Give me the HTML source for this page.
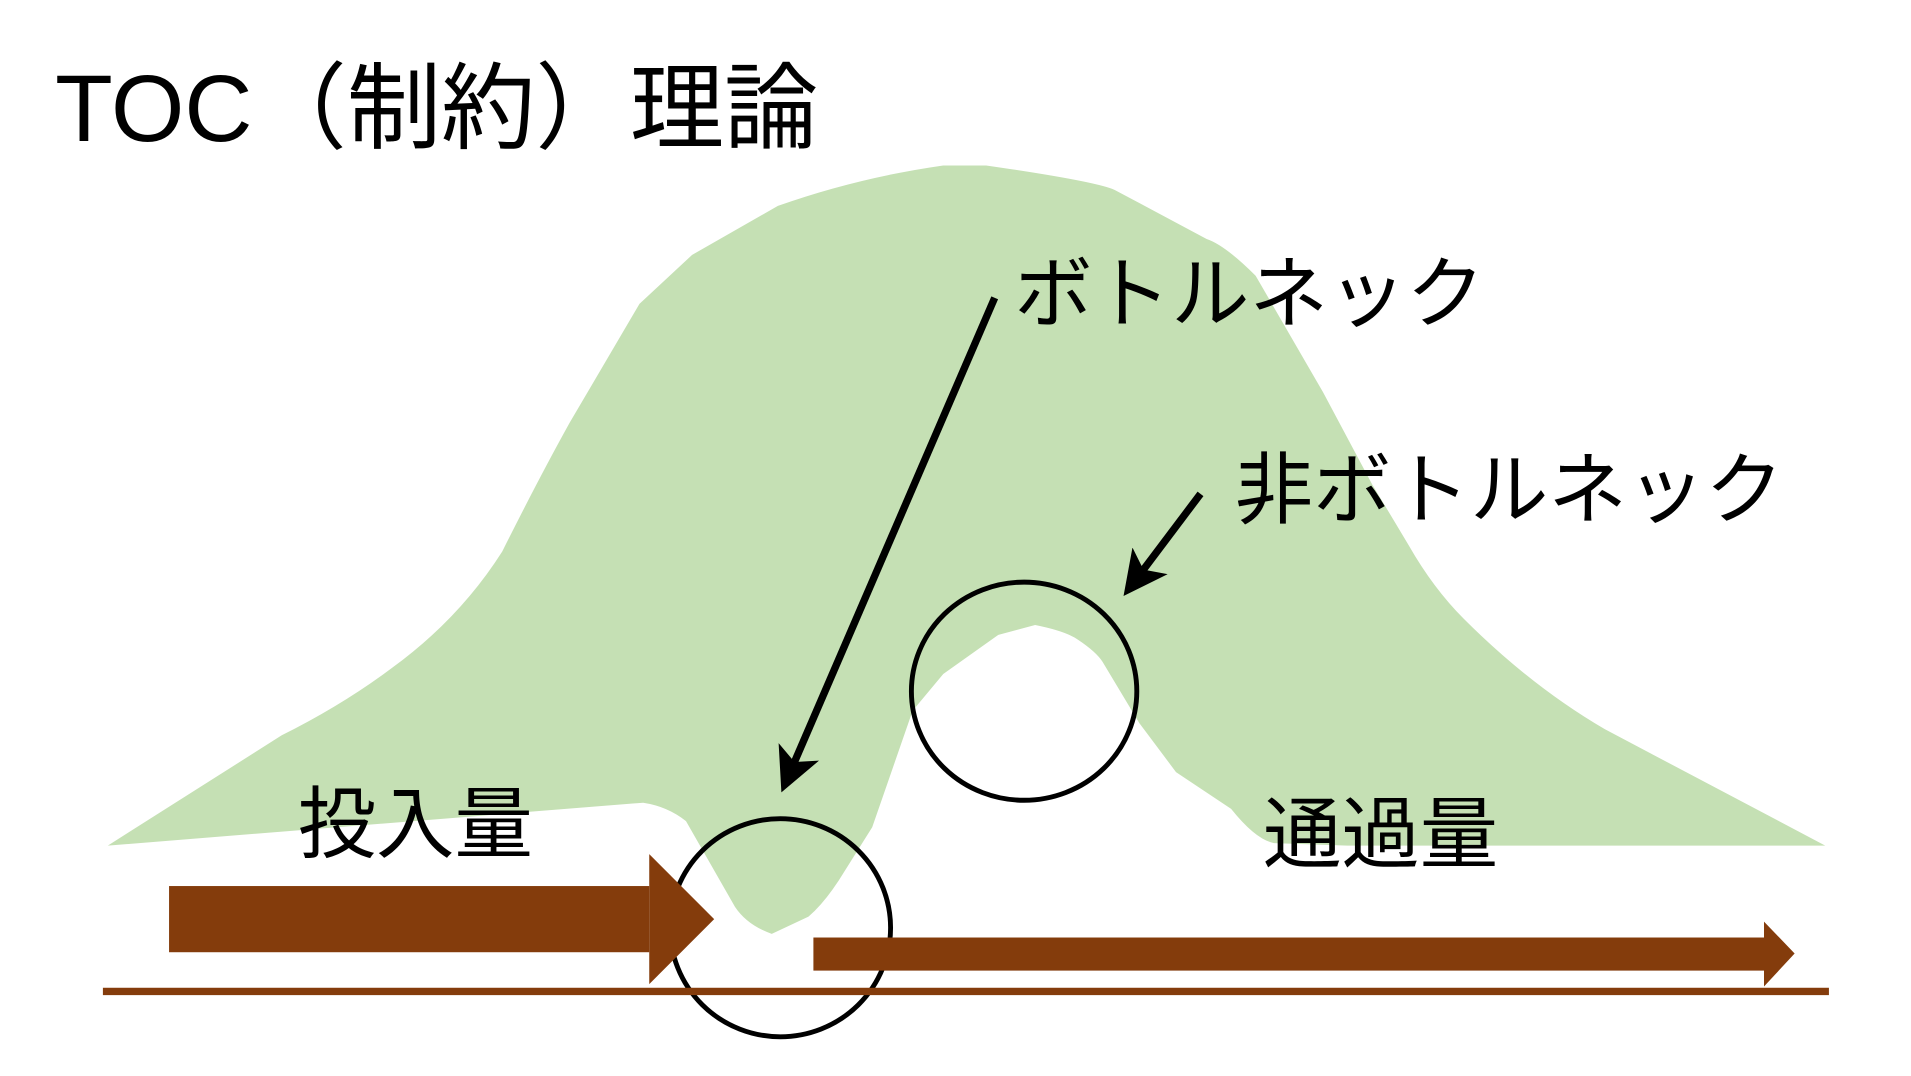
<!DOCTYPE html>
<html><head><meta charset="utf-8"><style>html,body{margin:0;padding:0;background:#fff;width:1911px;height:1076px;overflow:hidden}svg{display:block}text{font-family:"Liberation Sans","Noto Sans CJK JP",sans-serif;fill:#000}</style></head><body>
<svg width="1911" height="1076" viewBox="0 0 1560 878" preserveAspectRatio="none" xmlns="http://www.w3.org/2000/svg">
<defs><marker id="ah" markerWidth="6" markerHeight="6" refX="3" refY="3" orient="auto" markerUnits="strokeWidth"><path d="M0,0 L6,3 L0,6 L1.5,3 z" fill="#000"/></marker></defs>
<text x="45" y="115" font-size="77">TOC（制約）理論</text>
<path fill="#C5E0B4" d="M88,690 L525,655 Q545,658 560,670 L600,740 Q610,755 630,762 L660,748 Q675,735 690,710 L712,675 L745,580 L770,550 L815,518 L845,510 Q870,515 880,522 Q895,532 900,540 L930,590 L960,630 L1005,660 Q1025,685 1040,688 L1100,690 L1490,690 L1310,595 Q1250,560 1195,505 Q1170,480 1150,445 L1120,395 L1080,320 L1025,225 Q1000,200 985,195 L910,155 Q895,148 805,135 L770,135 Q700,145 635,168 L565,208 L522,248 L465,345 Q440,390 410,450 Q375,505 320,545 Q280,575 230,600 Z"/>
<ellipse cx="836" cy="564" rx="92" ry="89" fill="none" stroke="#000" stroke-width="4"/>
<ellipse cx="637" cy="757" rx="90" ry="89" fill="none" stroke="#000" stroke-width="4"/>
<rect x="138" y="723" width="392" height="54" fill="#843C0C"/>
<polygon points="530,697 583,750 530,803" fill="#843C0C"/>
<rect x="664" y="765" width="776" height="27" fill="#843C0C"/>
<polygon points="1440,752 1465,778 1440,805" fill="#843C0C"/>
<rect x="84" y="806" width="1409" height="6" fill="#843C0C"/>
<line x1="812" y1="243" x2="645" y2="630" stroke="#000" stroke-width="6" marker-end="url(#ah)"/>
<line x1="980" y1="403" x2="928" y2="472" stroke="#000" stroke-width="6" marker-end="url(#ah)"/>
<text x="828" y="262" font-size="64">ボトルネック</text>
<text x="1008" y="422" font-size="64">非ボトルネック</text>
<text x="243" y="695" font-size="64">投入量</text>
<text x="1031" y="703" font-size="64">通過量</text>
</svg>
</body></html>
